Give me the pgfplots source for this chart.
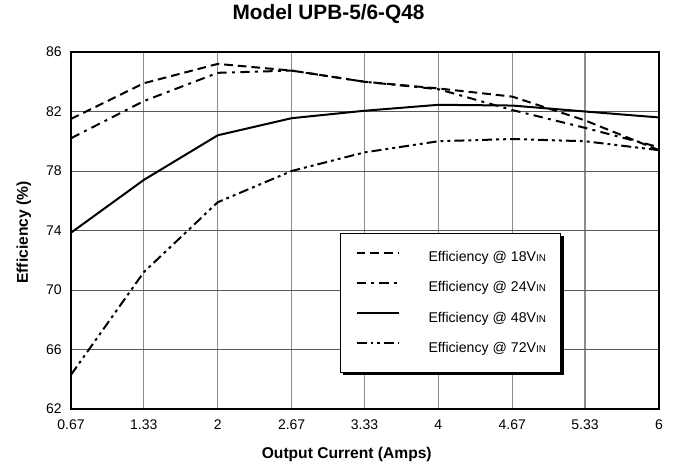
\documentclass[border=0pt]{standalone}
\usepackage{fontspec}
\setmainfont{Liberation Sans}
\usepackage{pgfplots}
\pgfplotsset{compat=1.18}
\usetikzlibrary{shadows}
\makeatletter
\tikzset{nopre/.code={\let\tikz@preactions\pgfutil@empty}}
\makeatother
\newcommand{\vin}{V{\fontsize{7.4}{8}\selectfont IN}}
\begin{document}
\begin{tikzpicture}
\begin{axis}[
  scale only axis,
  width=441pt, height=267.75pt,
  xmin=0.67, xmax=6, ymin=62, ymax=86,
  xtick={0.67,1.33,2,2.67,3.33,4,4.67,5.33,6},
  xticklabels={0.67,1.33,2,2.67,3.33,4,4.67,5.33,6},
  ytick={62,66,70,74,78,82,86},
  major tick length=0pt,
  grid=major,
  x grid style={color=black!45, line width=0.9pt},
  y grid style={color=black!65, line width=0.7pt},
  axis line style={line width=1pt, black},
  /pgf/number format/assume math mode=true,
  tick label style={font=\fontsize{10.5}{12}\selectfont},
  xticklabel style={anchor=base, inner sep=0pt, yshift=-15.75pt},
  yticklabel style={anchor=east, inner sep=0pt, xshift=-6.75pt},
  title={Model UPB-5/6-Q48},
  title style={at={(0.438,1)}, anchor=base, yshift=18pt, inner sep=0pt, font=\bfseries\fontsize{15.6}{18}\selectfont},
  xlabel={Output Current (Amps)},
  xlabel style={at={(0.469,0)}, anchor=base, yshift=-37.5pt, inner sep=0pt, font=\bfseries\fontsize{11.7}{13}\selectfont},
  ylabel={Efficiency (\%)},
  every axis y label/.style={at={(axis description cs:0,0.494)}, xshift=-32.25pt, rotate=90, anchor=base, inner sep=0pt, font=\bfseries\fontsize{11.7}{13}\selectfont},
  legend cell align=left,
  legend style={at={(0.4575,0.493)}, anchor=north west, draw=black, line width=0.75pt, fill=white,
    drop shadow={shadow xshift=2.2pt, shadow yshift=-2.2pt, fill=black, opacity=1},
    inner xsep=11.25pt, inner ysep=13.5pt, row sep=13.5pt,
    font=\fontsize{10.6}{12}\selectfont,
    nodes={inner sep=0pt},
    /tikz/every odd column/.append style={column sep=21.75pt}},
  legend image code/.code={\draw[nopre, #1, line width=1.5pt] (0pt,3.8pt) -- (31.5pt,3.8pt);},
]
\addplot[black, line width=1.5pt, dash pattern=on 6.5pt off 3.75pt] coordinates {
(0.67,81.5) (1.33,83.9) (2,85.2) (2.67,84.75) (3.33,84.0) (4,83.55) (4.67,83.0) (5.33,81.4) (6,79.4)};
\addlegendentry{Efficiency @ 18\vin}
\addplot[black, line width=1.5pt, dash pattern=on 7pt off 4pt on 2.2pt off 4pt] coordinates {
(0.67,80.2) (1.33,82.7) (2,84.6) (2.67,84.75) (3.33,84.0) (4,83.5) (4.67,82.1) (5.33,80.9) (6,79.6)};
\addlegendentry{Efficiency @ 24\vin}
\addplot[black, line width=1.5pt] coordinates {
(0.67,73.85) (1.33,77.4) (2,80.4) (2.67,81.55) (3.33,82.05) (4,82.45) (4.67,82.4) (5.33,82.0) (6,81.6)};
\addlegendentry{Efficiency @ 48\vin}
\addplot[black, line width=1.5pt, dash pattern=on 7.5pt off 3pt on 2.2pt off 3pt on 2.2pt off 3pt] coordinates {
(0.67,64.3) (1.33,71.2) (2,75.9) (2.67,78.0) (3.33,79.25) (4,80.0) (4.67,80.15) (5.33,80.0) (6,79.4)};
\addlegendentry{Efficiency @ 72\vin}
\end{axis}
\useasboundingbox (-53.25pt,-41.25pt) rectangle (459pt,306.75pt);
\end{tikzpicture}
\end{document}
